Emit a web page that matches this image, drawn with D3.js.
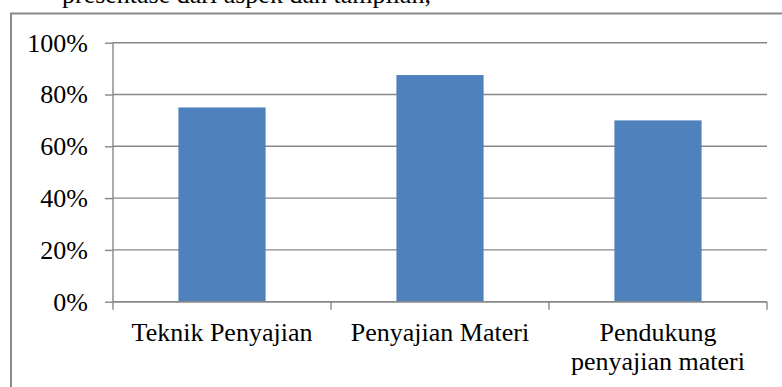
<!DOCTYPE html>
<html>
<head>
<meta charset="utf-8">
<script src="https://cdn.jsdelivr.net/npm/d3@7"></script>
<style>
  html, body { margin: 0; padding: 0; background: #fff; }
  svg { display: block; }
  text { font-family: "Liberation Serif", "Times New Roman", serif; fill: #000; }
</style>
</head>
<body>
<svg id="chart" width="782" height="387"></svg>
<script>
// ---- data ----
const categories = ["Teknik Penyajian", "Penyajian Materi", "Pendukung penyajian materi"];
const categoryLines = [["Teknik Penyajian"], ["Penyajian Materi"], ["Pendukung", "penyajian materi"]];
const values = [0.75, 0.875, 0.70];
const yTicks = [0, 0.2, 0.4, 0.6, 0.8, 1.0];
const topText = "presentase dari aspek dan tampilan,";

// ---- layout ----
const W = 782, H = 387;
const plot = { left: 113, right: 767, top: 42.7, bottom: 301.7 };
const gridColor = "#878787";
const barColor = "#4f81bd";
const fs = 26;

const svg = d3.select("#chart");

// cut-off paragraph text above the chart
svg.append("text")
  .attr("x", 62).attr("y", 3)
  .attr("font-size", fs)
  .text(topText);

// chart border (extends past the image on right and bottom)
svg.append("rect")
  .attr("x", 11).attr("y", 13.5)
  .attr("width", W + 10).attr("height", H + 10)
  .attr("fill", "none")
  .attr("stroke", "#8a8a8a")
  .attr("stroke-width", 2);

const y = d3.scaleLinear().domain([0, 1]).range([plot.bottom, plot.top]);
const x = d3.scaleBand().domain(categories).range([plot.left, plot.right]).padding(0);
const xBar = d3.scaleBand().domain(categories).range([plot.left, plot.right])
  .paddingInner(0.6).paddingOuter(0.3);

// gridlines
svg.append("g").selectAll("line").data(yTicks).join("line")
  .attr("x1", plot.left).attr("x2", plot.right)
  .attr("y1", d => y(d)).attr("y2", d => y(d))
  .attr("stroke", gridColor).attr("stroke-width", 1.4);

// bars
svg.append("g").selectAll("rect").data(values).join("rect")
  .attr("x", (d, i) => xBar(categories[i]))
  .attr("width", xBar.bandwidth())
  .attr("y", d => y(d))
  .attr("height", d => y(0) - y(d))
  .attr("fill", barColor);

// y axis
const yAxis = d3.axisLeft(y).tickValues(yTicks).tickFormat(d3.format(".0%"))
  .tickSizeInner(8).tickSizeOuter(0).tickPadding(17);
const yg = svg.append("g").attr("transform", `translate(${plot.left},0)`).call(yAxis);
yg.select(".domain").remove();
yg.selectAll(".tick line").attr("stroke", gridColor).attr("stroke-width", 1.4);
yg.selectAll(".tick text")
  .attr("font-family", "Liberation Serif, Times New Roman, serif")
  .attr("font-size", fs).attr("fill", "#000");
svg.append("line")
  .attr("x1", plot.left).attr("x2", plot.left)
  .attr("y1", plot.top).attr("y2", plot.bottom + 8)
  .attr("stroke", gridColor).attr("stroke-width", 1.4);

// x axis baseline + ticks at band boundaries
svg.append("line")
  .attr("x1", plot.left).attr("x2", plot.right)
  .attr("y1", y(0)).attr("y2", y(0))
  .attr("stroke", gridColor).attr("stroke-width", 1.4);
const boundaries = categories.map(c => x(c) + x.bandwidth());
svg.append("g").selectAll("line").data(boundaries).join("line")
  .attr("x1", d => d).attr("x2", d => d)
  .attr("y1", y(0)).attr("y2", y(0) + 8)
  .attr("stroke", gridColor).attr("stroke-width", 1.4);

// category labels
const lab = svg.append("g").selectAll("text").data(categories).join("text")
  .attr("text-anchor", "middle")
  .attr("font-size", fs)
  .attr("x", c => x(c) + x.bandwidth() / 2)
  .attr("y", 341);
lab.each(function(c, i) {
  const t = d3.select(this);
  categoryLines[i].forEach((line, j) => {
    t.append("tspan")
      .attr("x", x(c) + x.bandwidth() / 2)
      .attr("dy", j === 0 ? 0 : 28.5)
      .text(line);
  });
});
</script>
</body>
</html>
